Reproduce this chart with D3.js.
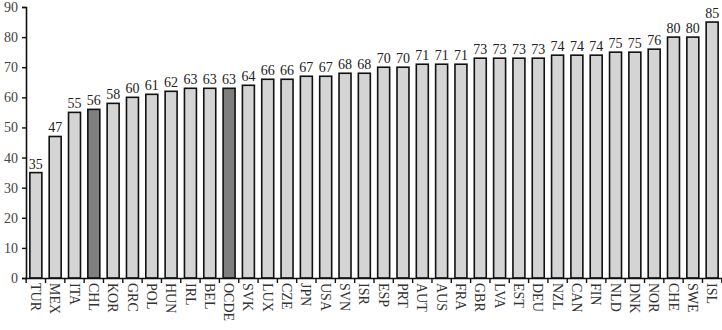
<!DOCTYPE html>
<html>
<head>
<meta charset="utf-8">
<script src="https://d3js.org/d3.v7.min.js"></script>
<style>
    body { margin: 0; background: #fff; }
    svg text { font-family: "Liberation Serif", "Times New Roman", serif; }
    .bar { stroke: #111; stroke-width: 1.6px; }
</style>
</head>
<body>
<script>
// countries, sorted as in the chart
var countries = ["TUR","MEX","ITA","CHL","KOR","GRC","POL","HUN","IRL","BEL","OCDE","SVK",
                 "LUX","CZE","JPN","USA","SVN","ISR","ESP","PRT","AUT","AUS","FRA","GBR",
                 "LVA","EST","DEU","NZL","CAN","FIN","NLD","DNK","NOR","CHE","SWE","ISL"];
var values = [35,47,55,56,58,60,61,62,63,63,63,64,
              66,66,67,67,68,68,70,70,71,71,71,73,
              73,73,73,74,74,74,75,75,76,80,80,85];
var highlighted = ["CHL","OCDE"];
var yTicks = [0,10,20,30,40,50,60,70,80,90];

var width = 722, height = 330;
var plotLeft = 26, plotRight = 722, plotBottom = 278, plotTop = 7;

var svg = d3.select("body").append("svg")
    .attr("width", width)
    .attr("height", height);

var data = countries.map(function(c, i) { return {name: c, value: values[i]}; });

var x = d3.scaleBand()
    .domain(countries)
    .range([plotLeft, plotRight])
    .paddingInner(0.38)
    .paddingOuter(0.2);

var y = d3.scaleLinear().domain([0, 90]).range([plotBottom, plotTop]);

// bars
svg.selectAll(".bar")
    .data(data)
    .enter().append("rect")
    .attr("class", "bar")
    .attr("x", function(d) { return x(d.name); })
    .attr("y", function(d) { return y(d.value); })
    .attr("width", x.bandwidth())
    .attr("height", function(d) { return y(0) - y(d.value); })
    .attr("fill", function(d) { return highlighted.indexOf(d.name) >= 0 ? "#7f7f7f" : "#d4d4d4"; });

// value labels
svg.selectAll(".val")
    .data(data)
    .enter().append("text")
    .attr("class", "val")
    .attr("x", function(d) { return x(d.name) + x.bandwidth() / 2; })
    .attr("y", function(d) { return y(d.value) - 4; })
    .attr("text-anchor", "middle")
    .style("font-size", "14px")
    .style("fill", "#222")
    .text(function(d) { return d.value; });

// y axis
var yAxis = svg.append("g")
    .attr("transform", "translate(" + plotLeft + ",0)")
    .call(d3.axisLeft(y).tickValues(yTicks).tickSize(4).tickPadding(4));
yAxis.select(".domain").attr("stroke", "#111").attr("stroke-width", 1.6);
yAxis.selectAll(".tick line").attr("stroke", "#111").attr("stroke-width", 1.4);
yAxis.selectAll(".tick text")
    .style("font-size", "14px")
    .style("font-family", "Liberation Serif, serif")
    .attr("fill", "#444");

// x axis
var xAxis = svg.append("g")
    .attr("transform", "translate(0," + plotBottom + ")")
    .call(d3.axisBottom(x).tickSize(0).tickPadding(0));
xAxis.select(".domain").attr("stroke", "#111").attr("stroke-width", 1.6);
xAxis.selectAll(".tick text")
    .style("font-size", "14px")
    .style("font-family", "Liberation Serif, serif")
    .attr("fill", "#333")
    .attr("text-anchor", "start")
    .attr("transform", "translate(0,5) rotate(90)")
    .attr("x", 0)
    .attr("y", 0)
    .attr("dy", "0.35em");

// tick marks between categories
var gap = x.step() - x.bandwidth();
var bounds = countries.map(function(c) { return x(c) - gap / 2; });
bounds.push(x(countries[countries.length - 1]) + x.bandwidth() + gap / 2);
svg.selectAll(".xtick")
    .data(bounds)
    .enter().append("line")
    .attr("x1", function(d) { return d; })
    .attr("x2", function(d) { return d; })
    .attr("y1", plotBottom)
    .attr("y2", plotBottom + 5)
    .attr("stroke", "#111")
    .attr("stroke-width", 1.4);
</script>
</body>
</html>
